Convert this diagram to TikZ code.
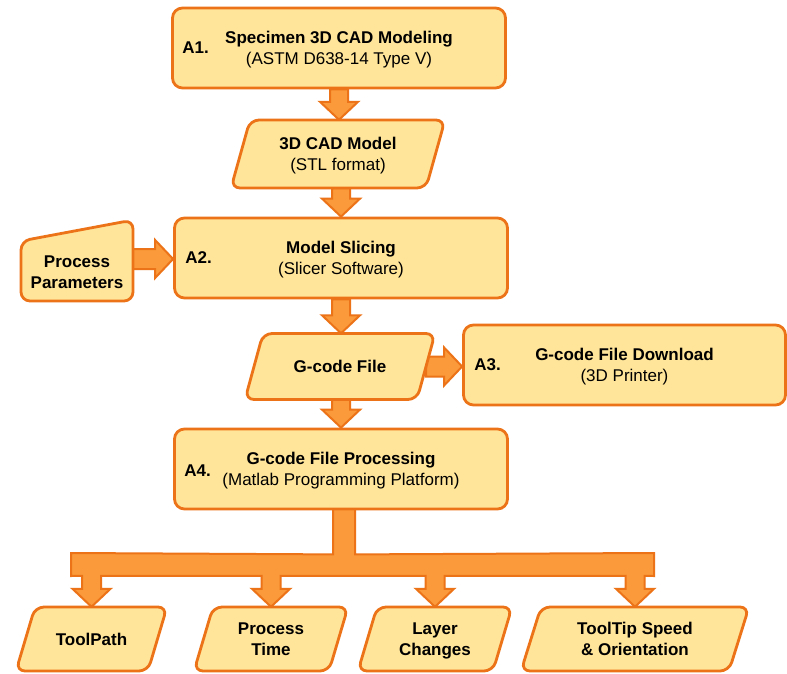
\documentclass[tikz,border=0pt]{standalone}
\usepackage{fontspec}
\setmainfont{Liberation Sans}
\usetikzlibrary{calc,backgrounds}
\definecolor{boxfill}{HTML}{FFE599}
\definecolor{boxline}{HTML}{EC7318}
\definecolor{arrfill}{HTML}{FA9A3A}
\newcommand\iopara[7]{%
  \draw[iobox] (#2-#4+#6,#3-#5) -- (#2+#4+#6,#3-#5) -- (#2+#4-#6,#3+#5) -- (#2-#4-#6,#3+#5) -- cycle;
  \node[iotext, minimum width={2*#4pt}, minimum height={2*#5pt}] (#1) at (#2,#3) {#7};}
\newcommand\fatdown[2]{\draw[fat] let \p1=(#1), \p2=(#2) in
  (\x1-9pt,\y1) -- (\x1-9pt,\y2+18pt) -- (\x1-19pt,\y2+18pt) -- (\x1,\y2) --
  (\x1+19pt,\y2+18pt) -- (\x1+9pt,\y2+18pt) -- (\x1+9pt,\y1) -- cycle;}
\newcommand\fatright[2]{\draw[fat] let \p1=(#1), \p2=(#2) in
  (\x1,\y1+10pt) -- (\x2-18pt,\y1+10pt) -- (\x2-18pt,\y1+19pt) -- (\x2,\y1) --
  (\x2-18pt,\y1-19pt) -- (\x2-18pt,\y1-10pt) -- (\x1,\y1-10pt) -- cycle;}
\begin{document}
\begin{tikzpicture}[x=1pt,y=-1pt,font=\fontsize{17}{21}\selectfont,
  box/.style={draw=boxline, fill=boxfill, line width=2.8pt, rounded corners=10pt,
    minimum width=333pt, minimum height=80pt, align=center, inner sep=0pt, text depth=0pt},
  iobox/.style={draw=boxline, fill=boxfill, line width=2.8pt, rounded corners=9pt},
  iotext/.style={align=center, inner sep=0pt, text depth=0pt, font=\fontsize{17}{21}\selectfont\bfseries},
  fat/.style={draw=boxline, fill=arrfill, line width=2pt, line join=miter},
  tag/.style={font=\fontsize{17}{21}\selectfont\bfseries, anchor=west, inner sep=0pt}]
\useasboundingbox (0,0) rectangle (787,673);

% process boxes
\node[box] (a1) at (339,48) {\textbf{Specimen 3D CAD Modeling}\\(ASTM D638-14 Type V)};
\node[box] (a2) at (341,258) {\textbf{Model Slicing}\\(Slicer Software)};
\node[box, minimum width=322pt] (a3) at (624.5,365) {\textbf{G-code File Download}\\(3D Printer)};
\node[box] (a4) at (341,469) {\textbf{G-code File Processing}\\(Matlab Programming Platform)};
\node[tag] (t1) at ($(a1.west)+(11,0)$) {A1.};
\node[tag] (t2) at ($(a2.west)+(12,0)$) {A2.};
\node[tag] (t3) at ($(a3.west)+(12,0)$) {A3.};
\node[tag] (t4) at ($(a4.west)+(11,2)$) {A4.};

% data (parallelogram) boxes
\iopara{m}{338}{154}{97.5}{34}{9.5}{3D CAD Model\\\mdseries(STL format)}
\iopara{g}{340}{366.5}{86}{33}{9}{G-code File}
\iopara{tp}{91.5}{639}{66}{32}{9.5}{ToolPath}
\iopara{pt}{271}{639}{67.5}{32}{9.5}{Process\\Time}
\iopara{lc}{435}{639}{67.5}{32}{9.5}{Layer\\Changes}
\iopara{ts}{635}{639}{104}{32}{10}{ToolTip Speed\\\& Orientation}

% manual input
\draw[iobox] (21,241) -- (133,220) -- (133,301) -- (21,301) -- cycle;
\node[iotext] (pp) at (77,272) {Process\\Parameters};
\coordinate (ppr) at (125,259);

\begin{pgfonlayer}{background}
\fill[white] (0,0) rectangle (787,673);
\fatdown{a1.south}{a1.south |- m.north}
\fatdown{a2.north |- m.south}{a2.north}
\fatdown{a2.south}{a2.south |- g.north}
\fatdown{a4.north |- g.south}{a4.north}
\fatright{ppr}{ppr -| a2.west}
\fatright{g.east}{g.east -| a3.west}
\draw[fat] ($(a4.south)+(-8,-5)$) -- ($(a4.south)+(-8,44)$) -- (71,553) -- (71,576)
  -- ($(tp.north)+(-9.5,-31)$) -- ($(tp.north)+(-9.5,-18)$) -- ($(tp.north)+(-19,-18)$) -- (tp.north)
  -- ($(tp.north)+(19,-18)$) -- ($(tp.north)+(9.5,-18)$) -- ($(tp.north)+(9.5,-31)$)
  -- ($(pt.north)+(-9.5,-31)$) -- ($(pt.north)+(-9.5,-18)$) -- ($(pt.north)+(-19,-18)$) -- (pt.north)
  -- ($(pt.north)+(19,-18)$) -- ($(pt.north)+(9.5,-18)$) -- ($(pt.north)+(9.5,-31)$)
  -- ($(lc.north)+(-9.5,-31)$) -- ($(lc.north)+(-9.5,-18)$) -- ($(lc.north)+(-19,-18)$) -- (lc.north)
  -- ($(lc.north)+(19,-18)$) -- ($(lc.north)+(9.5,-18)$) -- ($(lc.north)+(9.5,-31)$)
  -- ($(ts.north)+(-9.5,-31)$) -- ($(ts.north)+(-9.5,-18)$) -- ($(ts.north)+(-19,-18)$) -- (ts.north)
  -- ($(ts.north)+(19,-18)$) -- ($(ts.north)+(9.5,-18)$) -- ($(ts.north)+(9.5,-31)$)
  -- (654,576) -- (654,553) -- ($(a4.south)+(14,44)$) -- ($(a4.south)+(14,-5)$) -- cycle;
\end{pgfonlayer}
\end{tikzpicture}
\end{document}
